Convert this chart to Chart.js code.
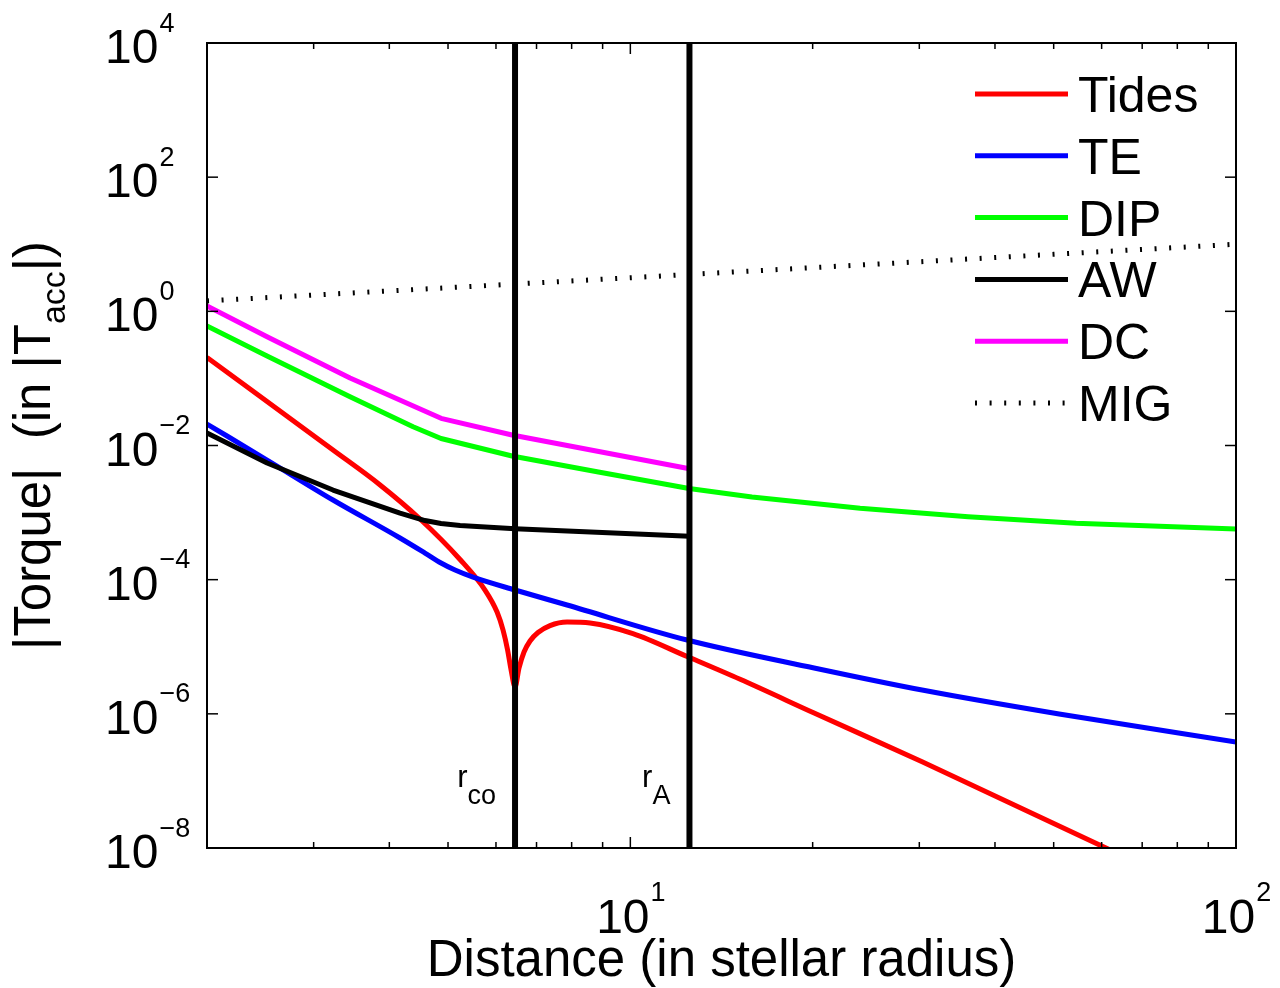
<!DOCTYPE html>
<html lang="en">
<head>
<meta charset="utf-8">
<title>Torque vs distance</title>
<script src="https://cdn.jsdelivr.net/npm/chart.js@4.4.1/dist/chart.umd.min.js"></script>
<style>
  html, body { margin: 0; padding: 0; background: #fff; }
  #chart { display: block; }
</style>
</head>
<body>
<canvas id="chart" width="1280" height="988"></canvas>
<script>
    /* values: distance in stellar radius, torque in |T_acc| */
    const tidesX = [2, 3.229, 3.862, 4.495, 5.234, 5.755, 6.025, 6.164, 6.271, 6.355, 6.451, 6.55, 6.675, 6.829, 7.04, 7.369, 7.862, 8.579, 10.1, 12.41, 15.18, 20.11, 30.32, 100];
    const tidesY = [0.2049, 8.56e-3, 2.58e-3, 8.02e-4, 2.0e-4, 7.01e-5, 3.29e-5, 1.77e-5, 8.94e-6, 4.5e-6, 2.51e-6, 4.82e-6, 8.34e-6, 1.22e-5, 1.63e-5, 2.07e-5, 2.34e-5, 2.26e-5, 1.57e-5, 7.15e-6, 3.27e-6, 1.03e-6, 1.93e-7, 1.22e-9];

    const teX = [2, 2.513, 3.229, 4.166, 4.581, 4.869, 5.135, 5.499, 6.451, 7.862, 12.41, 20.11, 30.32, 51.05, 100];
    const teY = [0.0209, 6.07e-3, 1.54e-3, 4.18e-4, 2.49e-4, 1.77e-4, 1.39e-4, 1.09e-4, 7.01e-5, 4.19e-5, 1.26e-5, 4.82e-6, 2.26e-6, 9.93e-7, 3.8e-7];

    const dipX = [2, 2.513, 3.445, 4.378, 4.869, 6.378, 8.811, 12.5, 15.88, 23.95, 36.12, 54.45, 100];
    const dipY = [0.604, 0.2158, 0.0534, 0.01905, 0.0127, 6.97e-3, 4.06e-3, 2.28e-3, 1.71e-3, 1.158e-3, 8.68e-4, 6.92e-4, 5.69e-4];

    const awX = [2, 2.513, 3.229, 4.166, 4.581, 4.869, 5.234, 6.451, 12.52];
    const awY = [0.01535, 5.48e-3, 2.17e-3, 9.85e-4, 7.61e-4, 6.87e-4, 6.41e-4, 5.74e-4, 4.43e-4];

    const dcX = [2, 2.513, 3.445, 4.869, 6.378, 12.52];
    const dcY = [1.2, 0.4185, 0.1014, 0.02542, 0.01432, 4.49e-3];

    const migX = [2, 5, 10, 20, 50, 100];
    const migY = [1.43, 2.25, 3.17, 4.48, 7.08, 10];

    // corotation radius and Alfven radius
    const rCo = 6.451;
    const rA = 12.52;

    const xMin = 2, xMax = 100;
    const yMin = 1e-8, yMax = 1e4;
    const yTickExps = [-8, -6, -4, -2, 0, 2, 4];
    const xTickExps = [1, 2];
    const xMinorTicks = [3, 4, 5, 6, 7, 8, 9, 20, 30, 40, 50, 60, 70, 80, 90];

    const FONT = '"Liberation Sans", Arial, Helvetica, sans-serif';

    function pts(xs, ys) {
        return xs.map((v, i) => ({x: v, y: ys[i]}));
    }

    function curve(label, xs, ys, color, order) {
        return {
            label: label,
            data: pts(xs, ys),
            borderColor: color,
            borderWidth: 5,
            pointRadius: 0,
            tension: 0,
            borderJoinStyle: 'round',
            order: order
        };
    }

    const tides = curve('Tides', tidesX, tidesY, '#ff0000', 6);
    tides.cubicInterpolationMode = 'monotone';

    const te = curve('TE', teX, teY, '#0000ff', 5);
    te.cubicInterpolationMode = 'monotone';

    const mig = curve('MIG', migX, migY, '#000000', 1);
    mig.borderDash = [2, 12.6];
    mig.borderCapStyle = 'butt';

    function vline(xv) {
        return {
            label: '',
            data: [{x: xv, y: yMin}, {x: xv, y: yMax}],
            borderColor: '#000000',
            borderWidth: 6,
            pointRadius: 0,
            order: 0,
            noLegend: true
        };
    }

    const datasets = [
        tides,
        te,
        curve('DIP', dipX, dipY, '#00ff00', 4),
        curve('AW', awX, awY, '#000000', 3),
        curve('DC', dcX, dcY, '#ff00ff', 2),
        mig,
        vline(rCo),
        vline(rA)
    ];

    function expText(e) {
        return e < 0 ? '\u2212' + (-e) : String(e);
    }

    function seg(ctx, x1, y1, x2, y2) {
        ctx.beginPath();
        ctx.moveTo(x1, y1);
        ctx.lineTo(x2, y2);
        ctx.stroke();
    }

    /* axes box, ticks, labels, legend and annotations in the MATLAB look */
    const paperPlugin = {
        id: 'paper',
        afterDraw(chart) {
            const ctx = chart.ctx;
            const a = chart.chartArea;
            const xs = chart.scales.x;
            const ys = chart.scales.y;
            ctx.save();
            ctx.strokeStyle = '#000';
            ctx.fillStyle = '#000';
            ctx.lineWidth = 2;
            ctx.setLineDash([]);
            ctx.strokeRect(a.left, a.top, a.right - a.left, a.bottom - a.top);

            ctx.lineWidth = 1.5;
            yTickExps.forEach(e => {
                const py = ys.getPixelForValue(Math.pow(10, e));
                seg(ctx, a.left, py, a.left + 11, py);
                seg(ctx, a.right, py, a.right - 11, py);
            });
            xTickExps.forEach(e => {
                const px = xs.getPixelForValue(Math.pow(10, e));
                seg(ctx, px, a.bottom, px, a.bottom - 11);
                seg(ctx, px, a.top, px, a.top + 11);
            });
            xMinorTicks.forEach(v => {
                const px = xs.getPixelForValue(v);
                seg(ctx, px, a.bottom, px, a.bottom - 6);
                seg(ctx, px, a.top, px, a.top + 6);
            });

            // tick labels
            ctx.textBaseline = 'alphabetic';
            ctx.textAlign = 'left';
            yTickExps.forEach(e => {
                const py = ys.getPixelForValue(Math.pow(10, e));
                ctx.font = '48px ' + FONT;
                ctx.fillText('10', a.left - 102, py + 20);
                const w = ctx.measureText('10').width;
                ctx.font = '27px ' + FONT;
                ctx.fillText(expText(e), a.left - 102 + w + 1, py - 11.5);
            });
            xTickExps.forEach(e => {
                const px = xs.getPixelForValue(Math.pow(10, e));
                ctx.font = '48px ' + FONT;
                const w1 = ctx.measureText('10').width;
                ctx.font = '27px ' + FONT;
                const w2 = ctx.measureText(expText(e)).width;
                const left = px - (w1 + w2) / 2;
                ctx.font = '48px ' + FONT;
                ctx.fillText('10', left, a.bottom + 85);
                ctx.font = '27px ' + FONT;
                ctx.fillText(expText(e), left + w1 + 1, a.bottom + 53);
            });

            // x axis title
            ctx.textAlign = 'center';
            ctx.font = '51px ' + FONT;
            ctx.fillText('Distance (in stellar radius)', (a.left + a.right) / 2, a.bottom + 128);

            // y axis title, rotated, with subscript
            ctx.save();
            ctx.translate(50, (a.top + a.bottom) / 2);
            ctx.rotate(-Math.PI / 2);
            const p1 = '|Torque|  (in |T', sub = 'acc', p2 = '|)';
            ctx.font = '51px ' + FONT;
            const w1 = ctx.measureText(p1).width;
            const w3 = ctx.measureText(p2).width;
            ctx.font = '34px ' + FONT;
            const w2 = ctx.measureText(sub).width;
            let cx = -(w1 + w2 + w3) / 2;
            ctx.textAlign = 'left';
            ctx.font = '51px ' + FONT;
            ctx.fillText(p1, cx, 0);
            ctx.font = '34px ' + FONT;
            ctx.fillText(sub, cx + w1, 15);
            ctx.font = '51px ' + FONT;
            ctx.fillText(p2, cx + w1 + w2, 0);
            ctx.restore();

            // r_co and r_A labels, left of their lines
            [[rCo, 'co'], [rA, 'A']].forEach(([v, s]) => {
                const px = xs.getPixelForValue(v);
                ctx.textAlign = 'left';
                ctx.font = '27px ' + FONT;
                const ws = ctx.measureText(s).width;
                const sx = px - 19 - ws;
                ctx.fillText(s, sx, a.bottom - 44);
                ctx.font = '31px ' + FONT;
                const wr = ctx.measureText('r').width;
                ctx.fillText('r', sx - wr, a.bottom - 61.5);
            });

            // legend
            const lx0 = a.right - 261, lx1 = a.right - 168;
            let ly = a.top + 51;
            chart.data.datasets.forEach(ds => {
                if (ds.noLegend) return;
                ctx.strokeStyle = ds.borderColor;
                ctx.lineWidth = ds.borderWidth;
                ctx.lineCap = ds.borderCapStyle || 'butt';
                ctx.setLineDash(ds.borderDash || []);
                seg(ctx, lx0, ly, lx1, ly);
                ctx.setLineDash([]);
                ctx.font = '50px ' + FONT;
                ctx.textAlign = 'left';
                ctx.fillStyle = '#000';
                ctx.fillText(ds.label, a.right - 158, ly + 18);
                ly += 61.8;
            });
            ctx.restore();
        }
    };

    const chart = new Chart(document.getElementById('chart').getContext('2d'), {
        type: 'line',
        data: {datasets: datasets},
        options: {
            responsive: false,
            animation: false,
            devicePixelRatio: 1,
            layout: {padding: {left: 0, top: 43, right: 44, bottom: 0}},
            plugins: {legend: {display: false}, tooltip: {enabled: false}},
            scales: {
                x: {
                    type: 'logarithmic',
                    min: xMin,
                    max: xMax,
                    grid: {display: false},
                    border: {display: false},
                    ticks: {display: false},
                    afterFit: s => { s.height = 140; }
                },
                y: {
                    type: 'logarithmic',
                    min: yMin,
                    max: yMax,
                    grid: {display: false},
                    border: {display: false},
                    ticks: {display: false},
                    afterFit: s => { s.width = 207; }
                }
            }
        },
        plugins: [paperPlugin]
    });
</script>
</body>
</html>
